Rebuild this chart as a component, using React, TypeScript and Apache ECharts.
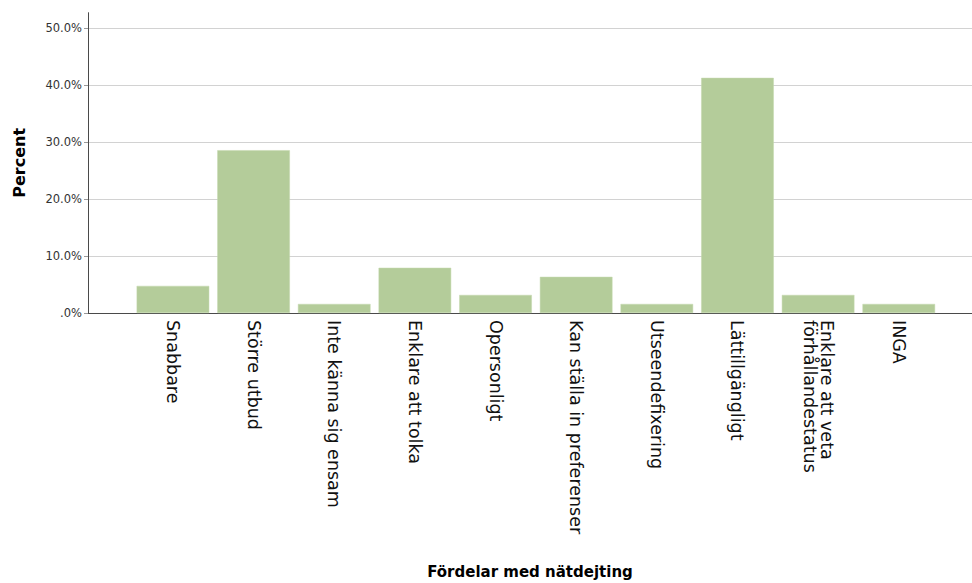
import React, { useEffect, useRef } from "react";
import * as echarts from "echarts";

const categories = [
  "Snabbare",
  "Större utbud",
  "Inte känna sig ensam",
  "Enklare att tolka",
  "Opersonligt",
  "Kan ställa in preferenser",
  "Utseendefixering",
  "Lättillgängligt",
  "Enklare att veta\nförhållandestatus",
  "INGA",
];
const percentValues = [4.76, 28.57, 1.59, 7.94, 3.17, 6.35, 1.59, 41.27, 3.17, 1.59];
const yTicks = [0, 10, 20, 30, 40, 50];
const yMax = 52.7;
const xTitle = "Fördelar med nätdejting";
const yTitle = "Percent";

export default function App() {
  const ref = useRef<HTMLDivElement>(null);
  useEffect(() => {
    if (!ref.current) return;
    const chart = echarts.init(ref.current, null, { renderer: "svg" });
    const fmt = (v: number) => (v === 0 ? ".0%" : v.toFixed(1) + "%");
    chart.setOption({
      animation: false,
      backgroundColor: "#ffffff",
      grid: [
        { left: 88, right: 0, top: 12.7, bottom: 270, containLabel: false, outerBoundsMode: "none" },
        { left: 132.6, right: 32.9, top: 12.7, bottom: 270, containLabel: false, outerBoundsMode: "none" },
      ],
      xAxis: [
        {
          type: "category",
          gridIndex: 0,
          data: [""],
          name: xTitle,
          nameLocation: "middle",
          nameGap: 251,
          nameTextStyle: {
            fontFamily: "DejaVu Sans",
            fontWeight: "bold",
            fontSize: 15,
            color: "#000",
          },
          axisLine: { show: true, lineStyle: { color: "#4a4a4a", width: 1 } },
          axisTick: { show: false },
          axisLabel: { show: false },
          splitLine: { show: false },
        },
        {
          type: "category",
          gridIndex: 1,
          data: categories,
          axisLine: { show: false },
          axisTick: { show: false },
          axisLabel: {
            rotate: -90,
            margin: 7,
            interval: 0,
            fontFamily: "DejaVu Sans",
            fontSize: 17.5,
            color: "#111",
            lineHeight: 17,
          },
        },
      ],
      yAxis: [
        {
          type: "value",
          gridIndex: 0,
          min: 0,
          max: yMax,
          interval: 10,
          name: yTitle,
          nameLocation: "middle",
          nameRotate: 90,
          nameGap: 61,
          nameTextStyle: {
            fontFamily: "DejaVu Sans",
            fontWeight: "bold",
            fontSize: 16,
            color: "#000",
          },
          axisLine: { show: true, lineStyle: { color: "#4a4a4a", width: 1 } },
          axisTick: {
            show: true,
            length: 4,
            lineStyle: { color: "#999" },
            customValues: yTicks,
          },
          axisLabel: {
            margin: 6,
            fontFamily: "DejaVu Sans",
            fontSize: 11.5,
            color: "#333",
            customValues: yTicks,
            formatter: (v: number) => fmt(v),
          },
          splitLine: {
            show: true,
            showMinLine: false,
            lineStyle: { color: "#d2d2d2", width: 1 },
          },
        },
        {
          type: "value",
          gridIndex: 1,
          min: 0,
          max: yMax,
          interval: 10,
          show: false,
          splitLine: { show: false },
        },
      ],
      series: [
        {
          type: "bar",
          xAxisIndex: 1,
          yAxisIndex: 1,
          data: percentValues,
          barCategoryGap: "10%",
          itemStyle: { color: "#b4cc9a", borderColor: "#c4d8ae", borderWidth: 0.5 },
        },
      ],
    });
    return () => chart.dispose();
  }, []);
  return (
    <div
      ref={ref}
      style={{ position: "fixed", left: 0, top: 0, width: 972, height: 583 }}
    />
  );
}
